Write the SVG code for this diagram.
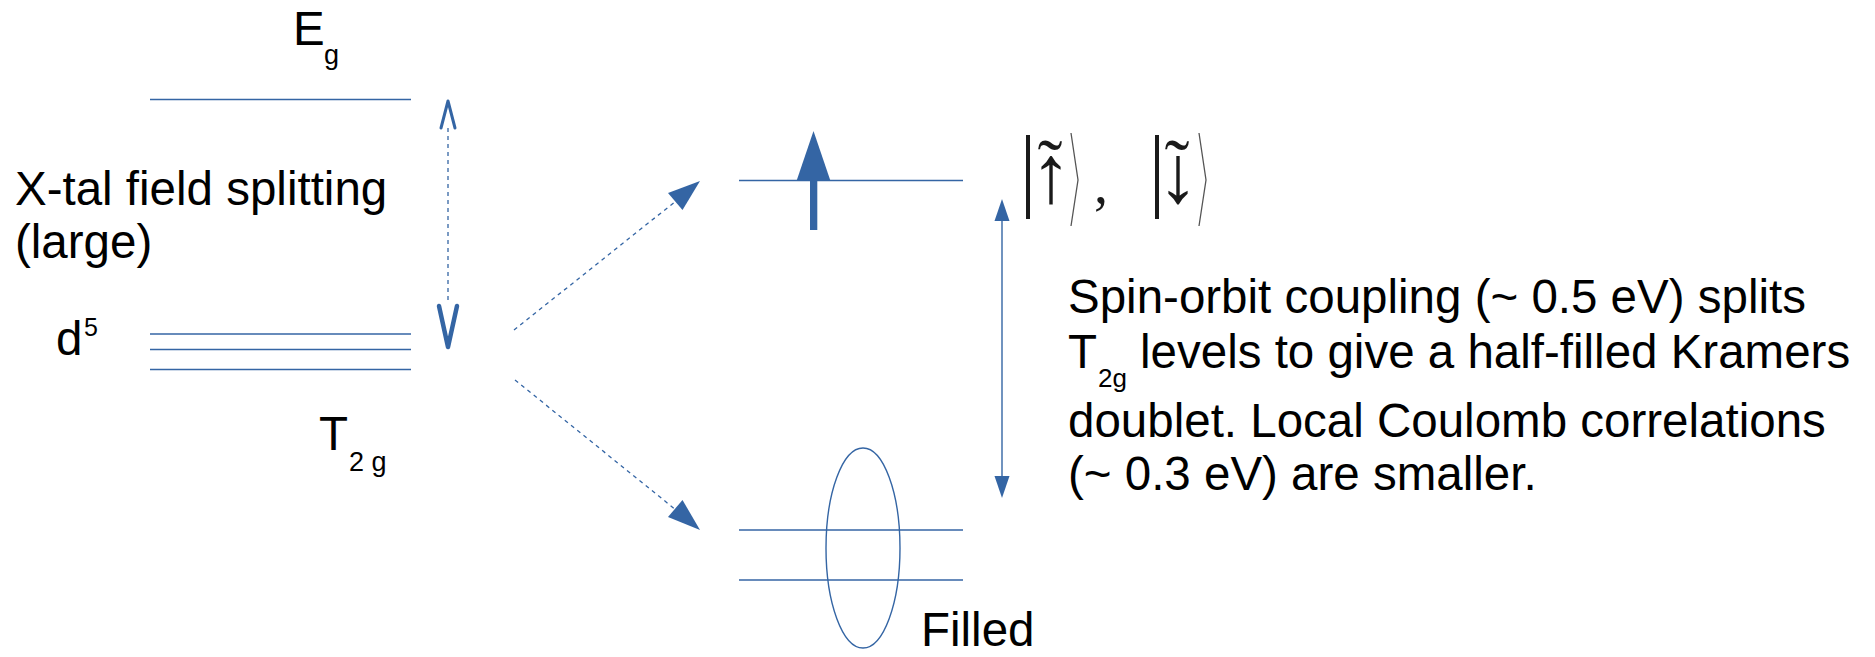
<svg xmlns="http://www.w3.org/2000/svg" width="1875" height="657" viewBox="0 0 1875 657">
<style>
.t{font-family:"Liberation Sans",Arial,sans-serif;fill:#000;font-size:47.5px}
.lv{stroke:#3465a4;stroke-width:1.4;fill:none}
.dash{stroke:#3465a4;stroke-width:1.3;stroke-dasharray:4 4;fill:none}
.head{fill:#3465a4;stroke:none}
.ket{font-family:"Liberation Sans",Arial,sans-serif;fill:#1a1a1a}
.tl{font-family:"Liberation Serif",serif;font-size:75px}
.ar{font-family:"Liberation Sans",Arial,sans-serif;font-size:82px}
</style>
<rect width="1875" height="657" fill="#fff"/>

<g id="eg-level">
<line class="lv" x1="150" y1="99.5" x2="411" y2="99.5"/>
<text class="t" x="293" y="45">E</text>
<text class="t" x="324" y="64" style="font-size:27px">g</text>
</g>

<g id="t2g-levels">
<line class="lv" x1="150" y1="334" x2="411" y2="334" style="stroke-width:1.6"/>
<line class="lv" x1="150" y1="349.5" x2="411" y2="349.5"/>
<line class="lv" x1="150" y1="369.5" x2="411" y2="369.5"/>
<text class="t" x="56" y="355">d</text>
<text class="t" x="84" y="336" style="font-size:25px">5</text>
<text class="t" x="319" y="450">T</text>
<text class="t" x="349" y="471" style="font-size:27px">2 g</text>
</g>

<g id="xtal-label">
<text class="t" x="15" y="205">X-tal field splitting</text>
<text class="t" x="15" y="258">(large)</text>
</g>

<g id="upper-doublet">
<line class="lv" x1="739" y1="180.5" x2="963" y2="180.5"/>
<polygon class="head" points="813.5,131 830.5,181 796.5,181"/>
<rect class="head" x="810" y="180" width="7.3" height="50"/>
</g>

<g id="ket-label">
<rect x="1026" y="135" width="4" height="84" fill="#1a1a1a"/>
<polyline points="1071,133 1078,180 1071,226" fill="none" stroke="#555" stroke-width="1.3"/>
<rect x="1155" y="135" width="4" height="84" fill="#1a1a1a"/>
<polyline points="1199,133 1206,180 1199,226" fill="none" stroke="#555" stroke-width="1.3"/>
<text class="ket" text-anchor="middle"><tspan class="tl" x="1050" y="191">˜</tspan><tspan class="ar" x="1051" y="202">↑</tspan><tspan class="tl" x="1101" y="203" style="font-size:56px">,</tspan><tspan class="tl" x="1177" y="191">˜</tspan><tspan class="ar" x="1178" y="202">↓</tspan></text>
</g>

<g id="lower-filled">
<line class="lv" x1="739" y1="530" x2="963" y2="530"/>
<line class="lv" x1="739" y1="580" x2="963" y2="580"/>
<ellipse class="lv" cx="863" cy="548" rx="37" ry="100"/>
<text class="t" x="921" y="646">Filled</text>
</g>

<g id="so-text">
<text class="t" x="1068" y="313">Spin-orbit coupling (~ 0.5 eV) splits</text>
<text class="t" x="1068" y="368">T</text>
<text class="t" x="1098" y="387" style="font-size:26px">2g</text>
<text class="t" x="1140" y="368">levels to give a half-filled Kramers</text>
<text class="t" x="1068" y="437">doublet. Local Coulomb correlations</text>
<text class="t" x="1068" y="490">(~ 0.3 eV) are smaller.</text>
</g>

<g id="connectors">
<line class="dash" x1="448" y1="128" x2="448" y2="303"/>
<polyline points="441,128 448,101 455,128" fill="none" stroke="#3465a4" stroke-width="3" stroke-linejoin="round" stroke-linecap="round"/>
<polyline points="439,306 448,347 457,306" fill="none" stroke="#3465a4" stroke-width="4.5" stroke-linejoin="round" stroke-linecap="round"/>

<line class="dash" x1="514" y1="330" x2="676" y2="201"/>
<polygon class="head" points="700,181 682.5,210 668,193"/>
<line class="dash" x1="515" y1="380" x2="676" y2="510"/>
<polygon class="head" points="700,530 668,517 682.5,500"/>

<line class="lv" x1="1002" y1="220" x2="1002" y2="477"/>
<polygon class="head" points="1002,199 1009.5,221 994.5,221"/>
<polygon class="head" points="1002,498 994.5,476 1009.5,476"/>
</g>
</svg>
